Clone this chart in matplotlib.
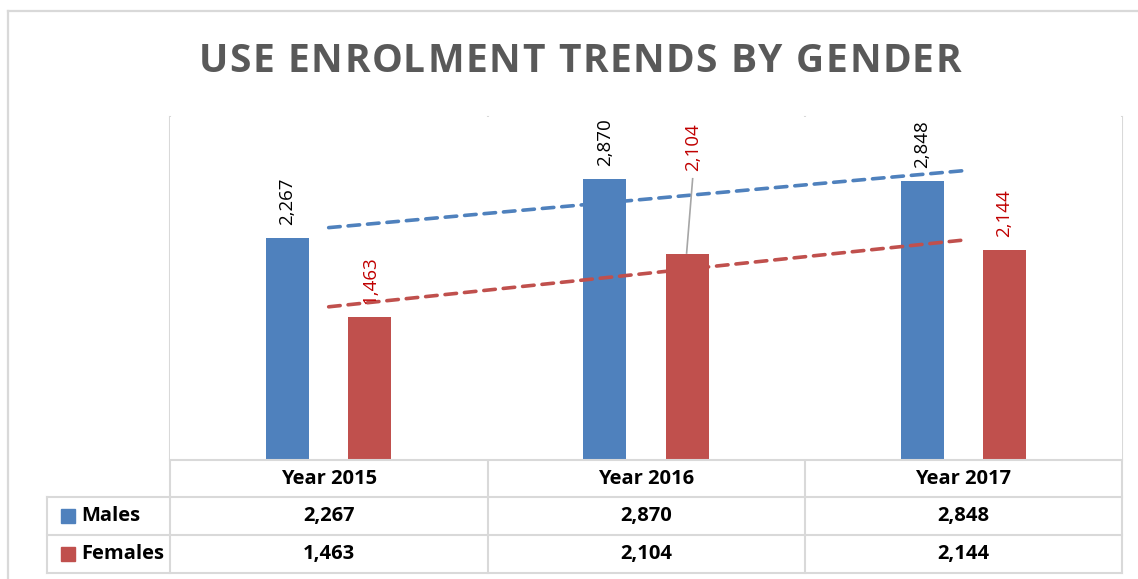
import numpy as np
import matplotlib
matplotlib.use("Agg")
import matplotlib.pyplot as plt
from matplotlib.lines import Line2D
from matplotlib.patches import Rectangle
from matplotlib.font_manager import FontProperties

# data
years = ["Year 2015", "Year 2016", "Year 2017"]
males = [2267, 2870, 2848]
females = [1463, 2104, 2144]
series_names = ["Males", "Females"]
title = "USE ENROLMENT TRENDS BY GENDER"

W, H = 1138, 579
blue = "#4F81BD"
red = "#C0504D"
grid_c = "#D9D9D9"
font = "Open Sans"

fig = plt.figure(figsize=(W / 100, H / 100), dpi=100)


def fx(x):
    return x / W


def fy(y):
    return 1 - y / H


# plot area (pixel coords of the reference)
left, right, top, bottom = 170, 1122, 117, 460
ax = fig.add_axes([fx(left), fy(bottom), fx(right) - fx(left), fy(top) - fy(bottom)])
ax.set_xlim(-0.5, 2.5)
ax.set_ylim(0, 3500)
for s in ax.spines.values():
    s.set_visible(False)
ax.set_xticks([])
ax.set_yticks([])

x = np.arange(len(years))
off, bw = 0.13, 0.135
ax.bar(x - off, males, width=bw, color=blue, zorder=2)
ax.bar(x + off, females, width=bw, color=red, zorder=2)

# linear trend lines
for vals, col in [(males, blue), (females, red)]:
    k, b = np.polyfit(x, vals, 1)
    ax.plot(x, k * x + b, color=col, lw=2.6, linestyle=(0, (3.2, 2.2)),
            dash_capstyle="round", zorder=3)

# data labels
for i in range(len(years)):
    ax.annotate(f"{males[i]:,}", (x[i] - off, males[i]), xytext=(0, 9),
                textcoords="offset points", rotation=90, ha="center", va="bottom",
                fontsize=13.5, family=font, color="black")
    if i == 1:
        # moved label with leader line
        ax.text(1.147, 2945, f"{females[i]:,}", rotation=90, ha="center", va="bottom",
                fontsize=13.5, family=font, color="#C00000")
        ax.plot([1.147, 1.128], [2870, 2112], color="#A6A6A6", lw=1.2, zorder=4)
    else:
        ax.annotate(f"{females[i]:,}", (x[i] + off, females[i]), xytext=(0, 9),
                    textcoords="offset points", rotation=90, ha="center", va="bottom",
                    fontsize=13.5, family=font, color="#C00000")

# title with letter spacing, drawn char by char
tprop = FontProperties(family=font, weight="bold", size=28)
rend = fig.canvas.get_renderer()


def tw(s):
    return rend.get_text_width_height_descent(s, tprop, ismath=False)[0]


spacing = 1.6
xw = tw("X")
total = tw(title) + spacing * (len(title) - 1)
x0 = 580 - total / 2
for i, ch in enumerate(title):
    if ch == " ":
        continue
    px = x0 + (tw(title[:i] + "X") - xw if i > 0 else 0) + spacing * i
    fig.text(fx(px), fy(72), ch, ha="left", va="baseline", fontproperties=tprop,
             color="#595959")

# chart border (left and top)
fig.add_artist(Line2D([fx(8), fx(8)], [fy(11), fy(579)], color=grid_c, lw=1.6))
fig.add_artist(Line2D([fx(8), fx(1138)], [fy(11), fy(11)], color=grid_c, lw=1.6))

# data table grid
cols = [170, 488, 805, 1122]
rows = [460, 497, 535, 573]
for cx in cols:
    fig.add_artist(Line2D([fx(cx), fx(cx)], [fy(117), fy(573)], color=grid_c, lw=1.5, zorder=0))
fig.add_artist(Line2D([fx(170), fx(1122)], [fy(460), fy(460)], color=grid_c, lw=1.5))
for ry in rows[1:]:
    fig.add_artist(Line2D([fx(47), fx(1122)], [fy(ry), fy(ry)], color=grid_c, lw=1.5))
fig.add_artist(Line2D([fx(47), fx(47)], [fy(497), fy(573)], color=grid_c, lw=1.5))

tsize = 14.5
# header row
for i, yr in enumerate(years):
    cx = (cols[i] + cols[i + 1]) / 2
    fig.text(fx(cx), fy(479), yr, ha="center", va="center", fontsize=tsize,
             fontweight="bold", family=font, color="black")

# series rows
for r, (name, vals, col) in enumerate([(series_names[0], males, blue),
                                        (series_names[1], females, red)]):
    cy = (rows[r + 1] + rows[r + 2]) / 2
    fig.add_artist(Rectangle((fx(61), fy(cy + 7)), fx(14), 14 / H, color=col))
    fig.text(fx(81), fy(cy), name, ha="left", va="center", fontsize=tsize,
             fontweight="bold", family=font, color="black")
    for i, v in enumerate(vals):
        cx = (cols[i] + cols[i + 1]) / 2
        fig.text(fx(cx), fy(cy), f"{v:,}", ha="center", va="center", fontsize=tsize,
                 fontweight="bold", family=font, color="black")

fig.savefig("out.png", dpi=100)
